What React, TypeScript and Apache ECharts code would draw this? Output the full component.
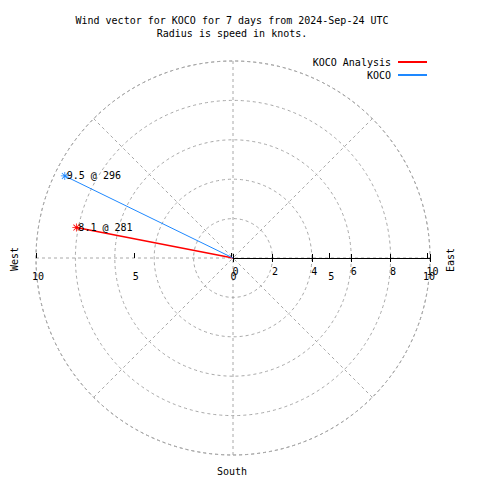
import React, { useEffect, useRef } from "react";
import * as echarts from "echarts";

const titleLines = ["Wind vector for KOCO for 7 days from 2024-Sep-24 UTC", "Radius is speed in knots."];
const seriesNames = ["KOCO Analysis", "KOCO"];
const seriesColors = ["#ff0000", "#1e88ff"];
const seriesWidths = [1.5, 1];
const speeds = [8.1, 9.5];
const directions = [281, 296];
const radiusTicks = [0, 10, 2];
const crossTicks = [-10, 10, 5];

const FONT = "DejaVu Sans Mono";
const STAR =
  "path://M4.5,0 L5.5,0 L5.5,10 L4.5,10 Z M0,4.5 L10,4.5 L10,5.5 L0,5.5 Z M1,1.7 L1.7,1 L9,8.3 L8.3,9 Z M8.3,1 L9,1.7 L1.7,9 L1,8.3 Z";

export default function App() {
  const ref = useRef<HTMLDivElement>(null);
  useEffect(() => {
    if (!ref.current) return;
    const chart = echarts.init(ref.current, undefined, { renderer: "svg" });
    const cx = 233;
    const cy = 258;
    const R = 197;
    const dash = { color: "#a8a8a8", width: 1, type: [3, 3] as number[] };
    const series = seriesNames.map((name, i) => ({
      name,
      type: "line",
      coordinateSystem: "polar",
      polarIndex: 0,
      color: seriesColors[i],
      lineStyle: { width: seriesWidths[i], color: seriesColors[i] },
      showSymbol: true,
      symbol: STAR,
      symbolSize: 8,
      itemStyle: { color: seriesColors[i] },
      data: [
        { value: [0, directions[i]], symbol: "none", label: { show: false } },
        {
          value: [speeds[i], directions[i]],
          label: {
            show: true,
            position: "right",
            distance: -2,
            color: "#000",
            fontFamily: FONT,
            fontSize: 10,
            formatter: () => `${speeds[i].toFixed(1)} @ ${directions[i]}`,
          },
        },
      ],
    }));
    const option: any = {
      animation: false,
      backgroundColor: "#fff",
      title: {
        text: titleLines.join("\n"),
        left: 232,
        textAlign: "center",
        top: 14,
        padding: 0,
        textStyle: { fontFamily: FONT, fontSize: 10, fontWeight: "normal", color: "#000", lineHeight: 13 },
      },
      legend: {
        orient: "vertical",
        align: "right",
        right: 53,
        top: 57,
        padding: 0,
        itemGap: 3,
        icon: "rect",
        itemWidth: 29,
        itemHeight: 2,
        textStyle: { fontFamily: FONT, fontSize: 10, color: "#000", padding: [0, 2, 0, 0] },
        data: seriesNames,
      },
      polar: { center: [cx, cy], radius: R },
      angleAxis: {
        type: "value",
        min: 0,
        max: 360,
        interval: 45,
        startAngle: 90,
        clockwise: true,
        axisLine: { show: true, lineStyle: dash },
        axisTick: { show: false },
        axisLabel: { show: false },
        splitLine: { show: true, lineStyle: dash },
      },
      radiusAxis: {
        type: "value",
        min: radiusTicks[0],
        max: radiusTicks[1],
        interval: radiusTicks[2],
        axisLine: { show: false },
        axisTick: { show: false },
        axisLabel: { show: false },
        splitLine: { show: true, lineStyle: dash },
      },
      grid: [
        { left: 36, top: cy - R, width: 2 * R - 3, height: R },
        { left: cx, top: cy - R, width: R, height: R },
        { left: cx, top: cy - R, width: R, height: R },
      ],
      xAxis: [
        {
          gridIndex: 0,
          type: "value",
          min: crossTicks[0],
          max: crossTicks[1],
          interval: crossTicks[2],
          axisLine: { show: false },
          axisTick: { show: true, inside: true, length: 5, lineStyle: { color: "#000" } },
          axisLabel: {
            show: true,
            margin: 13,
            color: "#000",
            fontFamily: FONT,
            fontSize: 10,
            align: "center",
            padding: [0, 0, 0, 4],
            formatter: (v: number) => String(Math.abs(v)),
          },
          splitLine: { show: false },
        },
        {
          gridIndex: 1,
          type: "value",
          min: radiusTicks[0],
          max: radiusTicks[1],
          interval: radiusTicks[2],
          axisLine: { show: true, lineStyle: { color: "#000", width: 1 } },
          axisTick: { show: true, inside: false, length: 4, lineStyle: { color: "#000" } },
          axisLabel: {
            show: true,
            align: "center",
            padding: [0, 0, 0, 5],
            margin: 8,
            color: "#000",
            fontFamily: FONT,
            fontSize: 10,
          },
          splitLine: { show: false },
        },
        {
          gridIndex: 2,
          type: "value",
          min: radiusTicks[0],
          max: radiusTicks[1],
          interval: radiusTicks[2],
          axisLine: { show: false },
          axisTick: { show: true, inside: true, length: 4, lineStyle: { color: "#000" } },
          axisLabel: { show: false },
          splitLine: { show: false },
        },
      ],
      yAxis: [0, 1, 2].map((g) => ({ gridIndex: g, type: "value", show: false, min: 0, max: 1 })),
      graphic: [
        {
          type: "text",
          x: 14,
          y: 259,
          rotation: Math.PI / 2,
          style: { text: "West", fontFamily: FONT, fontSize: 10, fill: "#000", align: "center", verticalAlign: "middle" },
        },
        {
          type: "text",
          x: 450,
          y: 260,
          rotation: Math.PI / 2,
          style: { text: "East", fontFamily: FONT, fontSize: 10, fill: "#000", align: "center", verticalAlign: "middle" },
        },
        {
          type: "text",
          x: 232,
          y: 471,
          style: { text: "South", fontFamily: FONT, fontSize: 10, fill: "#000", align: "center", verticalAlign: "middle" },
        },
      ],
      series,
    };
    chart.setOption(option);
    return () => chart.dispose();
  }, []);
  return <div ref={ref} style={{ position: "absolute", left: 0, top: 0, width: 480, height: 480 }} />;
}
